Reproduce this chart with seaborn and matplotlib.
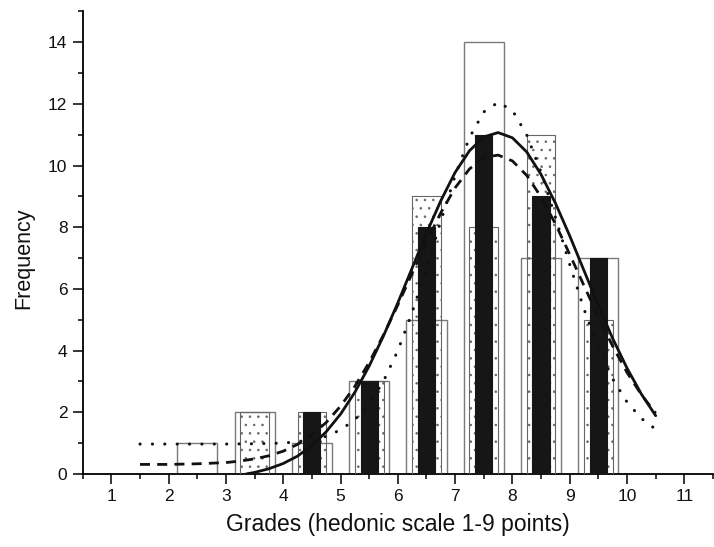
import numpy as np
import pandas as pd
import matplotlib
matplotlib.use("Agg")
import matplotlib.pyplot as plt
import seaborn as sns
from matplotlib.ticker import MultipleLocator, FixedLocator

# ---------------- data ----------------
grades = [2.5, 3.5, 4.5, 5.5, 6.5, 7.5, 8.5, 9.5]
freq_white = [1, 2, 1, 3, 5, 14, 7, 7]
freq_dotted = [0, 2, 2, 3, 9, 8, 11, 5]
freq_black = [0, 0, 2, 3, 8, 11, 9, 7]

solid_x = [3.35, 3.5, 3.75, 4.0, 4.25, 4.5, 4.75, 5.0, 5.25, 5.5, 5.75, 6.0,
           6.25, 6.5, 6.75, 7.0, 7.25, 7.5, 7.75, 8.0, 8.25, 8.5, 8.75, 9.0,
           9.25, 9.5, 9.75, 10.0, 10.25, 10.5]
solid_y = [0.0, 0.05, 0.17, 0.34, 0.58, 0.92, 1.37, 1.94, 2.65, 3.50, 4.48, 5.55,
           6.68, 7.81, 8.86, 9.78, 10.48, 10.93, 11.07, 10.90, 10.44, 9.71, 8.78, 7.72,
           6.59, 5.46, 4.39, 3.43, 2.59, 1.89]

dashed_x = [1.5, 2.0, 2.5, 3.0, 3.25, 3.5, 3.75, 4.0, 4.25, 4.5, 4.75, 5.0,
            5.25, 5.5, 5.75, 6.0, 6.25, 6.5, 6.75, 7.0, 7.25, 7.5, 7.75, 8.0,
            8.25, 8.5, 8.75, 9.0, 9.25, 9.5, 9.75, 10.0, 10.25, 10.5]
dashed_y = [0.31, 0.31, 0.33, 0.37, 0.42, 0.49, 0.59, 0.74, 0.96, 1.27, 1.67, 2.20,
            2.84, 3.62, 4.51, 5.48, 6.51, 7.53, 8.47, 9.28, 9.89, 10.26, 10.34, 10.15,
            9.68, 8.98, 8.11, 7.12, 6.10, 5.09, 4.14, 3.29, 2.57, 1.97]

dotted_x = [1.5, 2.0, 2.5, 3.0, 3.5, 4.0, 4.5, 4.75, 5.0, 5.25, 5.5, 5.75, 6.0,
            6.25, 6.5, 6.75, 7.0, 7.25, 7.5, 7.75, 8.0, 8.25, 8.5, 8.75, 9.0,
            9.25, 9.5, 9.75, 10.0, 10.25, 10.5]
dotted_y = [0.97, 0.97, 0.97, 0.97, 0.98, 1.00, 1.10, 1.22, 1.43, 1.76, 2.28, 3.01, 4.00,
            5.24, 6.67, 8.20, 9.67, 10.91, 11.74, 12.05, 11.79, 10.99, 9.78, 8.32, 6.79,
            5.34, 4.09, 3.08, 2.33, 1.80, 1.45]

x_ticks = list(range(1, 12))
y_ticks = list(range(0, 15, 2))
x_label = "Grades (hedonic scale 1-9 points)"
y_label = "Frequency"

# ---------------- style ----------------
sns.set_style("ticks")
plt.rcParams["font.family"] = ["Liberation Sans", "DejaVu Sans"]
plt.rcParams["hatch.linewidth"] = 0.6

fig = plt.figure(figsize=(7.14, 5.47), dpi=100)
ax = fig.add_axes([0.1158, 0.1335, 0.8828, 0.8457])


def draw_bars(values, width, face, edge, lw, hatch, z):
    df = pd.DataFrame({"grade": grades, "freq": values})
    df = df[df["freq"] > 0]
    n0 = len(ax.patches)
    sns.barplot(data=df, x="grade", y="freq", native_scale=True, width=width,
                color="white", errorbar=None, ax=ax, zorder=z)
    for p in ax.patches[n0:]:
        p.set_facecolor(face)
        p.set_edgecolor(edge)
        p.set_linewidth(lw)
        if hatch:
            p.set_hatch(hatch)
        p.set_zorder(z)


draw_bars(freq_white, 0.7, "none", "#7a7a7a", 1.0, None, 2)
draw_bars(freq_dotted, 0.5, "none", "#666666", 0.8, "..", 3)
draw_bars(freq_black, 0.3, "#161616", "#161616", 0.8, None, 4)

sns.lineplot(x=solid_x, y=solid_y, ax=ax, color="#111111", lw=2.0,
             estimator=None, zorder=6)
sns.lineplot(x=dashed_x, y=dashed_y, ax=ax, color="#111111", lw=2.0,
             linestyle=(0, (3.6, 2.6)), estimator=None, zorder=6)
sns.lineplot(x=dotted_x, y=dotted_y, ax=ax, color="#111111", lw=2.2,
             linestyle=(0, (0.05, 4.0)), dash_capstyle="round",
             estimator=None, zorder=6)

ax.set_xlim(0.5, 11.5)
ax.set_ylim(0, 15)
ax.xaxis.set_major_locator(FixedLocator(x_ticks))
ax.xaxis.set_minor_locator(MultipleLocator(1.0, offset=0.5))
ax.yaxis.set_major_locator(FixedLocator(y_ticks))
ax.yaxis.set_minor_locator(MultipleLocator(2.0, offset=1.0))
ax.set_xticklabels([str(t) for t in x_ticks])
ax.set_yticklabels([str(t) for t in y_ticks])

ax.tick_params(which="major", direction="out", length=7, width=1.1,
               labelsize=12.5, pad=4, color="black", labelcolor="#111111")
ax.tick_params(which="minor", direction="out", length=3.5, width=1.1, color="black")

for s in ["top", "right"]:
    ax.spines[s].set_visible(False)
for s in ["left", "bottom"]:
    ax.spines[s].set_color("black")
    ax.spines[s].set_linewidth(1.3)

ax.set_xlabel(x_label, fontsize=16.5, labelpad=6, color="#111111")
ax.set_ylabel(y_label, fontsize=15.5, color="#111111")
ax.yaxis.set_label_coords(-0.077, 0.467)
ax.grid(False)

fig.savefig("out.png", dpi=100)
